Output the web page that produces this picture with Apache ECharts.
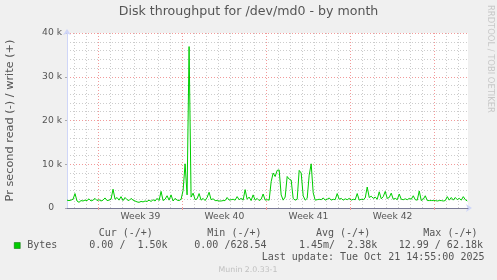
<!DOCTYPE html>
<html>
<head>
<meta charset="utf-8">
<script src="https://cdn.jsdelivr.net/npm/echarts@6/dist/echarts.min.js"></script>
<style>
html,body{margin:0;padding:0;background:#f0f0f0;}
#c{width:497px;height:280px;}
</style>
</head>
<body>
<div id="c"></div>
<script>
// ---- data ----
const chartTitle = 'Disk throughput for /dev/md0 - by month';
const yAxisName = 'Pr second read (-) / write (+)';
const seriesName = 'Bytes';
// time in hours relative to start of Week 39 (Mon 00:00); one sample every 4 hours
const startHour = -62.6;
const stepHours = 4;
const axisEndHour = 738.8;
// write throughput, in thousands of bytes per second
const writeK = [
 1.8,1.7,1.8,2.0,3.3,1.6,1.3,1.7,1.6,1.8,1.7,2.1,1.6,1.8,2.2,1.7,
 1.9,1.6,1.8,2.3,1.7,1.8,2.0,4.3,2.0,2.4,1.8,2.6,1.7,2.4,1.9,1.7,
 2.2,1.8,1.6,1.4,1.3,1.5,1.4,1.6,1.5,1.8,1.5,1.9,1.6,2.2,1.7,3.8,
 1.7,2.0,2.8,1.8,3.0,1.6,2.2,1.8,1.7,2.0,4.0,10.1,3.0,36.9,2.5,3.4,
 1.9,2.1,3.3,1.8,2.2,1.7,2.4,3.6,1.9,2.1,1.7,1.7,1.6,1.6,1.7,1.7,
 2.4,1.8,1.9,2.0,1.8,2.6,1.9,2.2,1.8,4.2,2.0,2.5,1.7,3.0,1.8,2.2,
 1.7,2.0,3.2,1.8,1.9,1.8,6.0,8.0,7.2,8.6,8.7,3.0,1.8,2.5,7.2,6.6,
 6.4,2.2,1.8,2.0,8.6,8.0,2.8,1.8,2.2,7.5,10.1,3.5,1.8,1.9,2.0,1.9,
 2.3,1.8,2.0,2.3,1.8,2.0,1.9,3.3,2.0,2.2,1.8,2.1,1.9,2.2,1.8,2.0,
 1.9,3.3,1.8,2.0,1.9,2.3,4.8,2.4,2.7,2.2,2.5,2.0,3.7,2.1,2.6,3.8,
 2.2,2.4,3.4,2.0,2.2,1.9,3.2,2.0,1.9,2.1,1.9,2.2,2.0,2.8,1.9,1.8,
 3.9,1.7,2.0,2.8,1.7,1.7,1.7,1.7,1.7,1.6,1.7,1.7,1.6,1.7,2.6,1.8,
 2.4,1.8,2.4,1.9,2.2,1.8,2.6,1.9,1.6
];
const weekLabels = ['Week 39', 'Week 40', 'Week 41', 'Week 42'];
const firstWeek = 39;
const legendHeaders = ['Cur (-/+)', 'Min (-/+)', 'Avg (-/+)', 'Max (-/+)'];
const bytesStats = ['0.00 /  1.50k', '0.00 /628.54', '1.45m/  2.38k', '12.99 / 62.18k'];
const lastUpdate = 'Last update: Tue Oct 21 14:55:00 2025';
const footer = 'Munin 2.0.33-1';
const watermark = 'RRDTOOL / TOBI OETIKER';

// ---- build ----
const HW = 168, HD = 24;
const points = writeK.map((v, i) => [startHour + i * stepHours, v]);
const weekStarts = [], dayStarts = [], weekMids = [];
for (let h = Math.ceil(startHour / HD) * HD; h <= axisEndHour; h += HD) {
  if (h % HW === 0) weekStarts.push(h); else dayStarts.push(h);
}
weekLabels.forEach((_, k) => weekMids.push(k * HW + HW / 2));

const FONT = 'DejaVu Sans';
const MONO = 'DejaVu Sans Mono';
const TXT = '#555';

const chart = echarts.init(document.getElementById('c'), null, {renderer: 'canvas'});
const monoText = (x, y, text, align) => ({
  type: 'text', x: x, y: y,
  style: {text: text, font: '10px "' + MONO + '"', fill: TXT, align: align || 'left', verticalAlign: 'middle'}
});
const statX = [98.7, 207.3, 316, 423.3];
const valX = [89.3, 194.3, 299, 398.7];
const graphics = [];
legendHeaders.forEach((t, i) => graphics.push(monoText(statX[i], 233.5, t)));
bytesStats.forEach((t, i) => graphics.push(monoText(valX[i], 245.5, t)));
graphics.push(monoText(261.7, 257.5, lastUpdate));
graphics.push({type: 'text', x: 248, y: 269.5,
  style: {text: footer, font: '7.8px "' + FONT + '"', fill: '#c0c0c0', align: 'center', verticalAlign: 'middle'}});
graphics.push({type: 'text', x: 490, y: 5, rotation: -Math.PI / 2,
  style: {text: watermark, font: '8.4px "' + FONT + '"', fill: '#c8c8c8', align: 'left', verticalAlign: 'middle'}});

const vLines = (hours, color, z) => ({
  type: 'line', data: [], xAxisIndex: 0, silent: true, z: z,
  markLine: {silent: true, symbol: 'none', animation: false, label: {show: false},
    emphasis: {disabled: true},
    lineStyle: {color: color, type: [1, 2], width: 1},
    data: hours.map(h => ({xAxis: h}))}
});

chart.setOption({
  backgroundColor: '#f0f0f0',
  animation: false,
  title: {
    text: chartTitle, left: 'center', top: 5, padding: 0,
    textStyle: {fontFamily: FONT, fontSize: 12.6, fontWeight: 'normal', color: TXT}
  },
  legend: {
    data: [seriesName], left: 14, top: 240.5, padding: 0,
    icon: 'rect', itemWidth: 6, itemHeight: 6,
    itemStyle: {borderColor: '#006600', borderWidth: 0.5},
    textStyle: {fontFamily: MONO, fontSize: 10, color: TXT, padding: [0, 0, 0, 2]}
  },
  grid: {left: 67, top: 33, width: 401, height: 175, containLabel: false, outerBoundsMode: 'none',
    show: true, backgroundColor: '#ffffff', borderWidth: 0},
  xAxis: [{
    type: 'value', position: 'bottom', min: startHour, max: axisEndHour, z: 2,
    axisLine: {show: true, onZero: false, lineStyle: {color: '#7a7a96', width: 1}},
    axisTick: {show: true, length: 2, inside: false, customValues: weekStarts, lineStyle: {color: '#f0a0a0'}},
    splitLine: {show: false},
    axisLabel: {show: true, customValues: weekMids, margin: 4,
      formatter: v => 'Week ' + (firstWeek + Math.floor(v / HW)),
      fontFamily: FONT, fontSize: 9.2, color: TXT}
  }, {
    type: 'value', position: 'bottom', min: startHour, max: axisEndHour, z: 1,
    axisLine: {show: true, onZero: false, symbol: ['none', 'arrow'], symbolSize: [6, 6], symbolOffset: [0, 4],
      lineStyle: {color: '#cfd6f8', width: 1}},
    axisTick: {show: false},
    splitLine: {show: false},
    axisLabel: {show: false}
  }],
  yAxis: {
    type: 'value', min: 0, max: 40, interval: 10,
    name: yAxisName, nameLocation: 'middle', nameGap: 51,
    nameTextStyle: {fontFamily: FONT, fontSize: 11.3, color: TXT},
    axisLine: {show: true, onZero: false, symbol: ['none', 'arrow'], symbolSize: [6, 6], symbolOffset: [0, 4],
      lineStyle: {color: '#cfd6f8', width: 1}},
    axisTick: {show: true, length: 2, lineStyle: {color: '#aaaaaa'}},
    minorTick: {show: false, splitNumber: 5},
    splitLine: {show: true, lineStyle: {color: '#f29a9a', type: [1, 2], width: 1}},
    minorSplitLine: {show: true, lineStyle: {color: '#cccccc', type: [1, 2], width: 1}},
    axisLabel: {margin: 5, fontFamily: FONT, fontSize: 9.2, color: TXT,
      formatter: v => v === 0 ? '{z|0}' : v + ' k',
      rich: {z: {fontFamily: FONT, fontSize: 9.2, color: TXT, padding: [0, 8, 0, 0]}}}
  },
  series: [
    vLines(dayStarts, '#cccccc', 1),
    vLines(weekStarts, '#f29a9a', 2),
    {
      name: seriesName, type: 'line', data: points, xAxisIndex: 0,
      showSymbol: false, symbol: 'none', smooth: false, z: 5,
      color: '#00cc00', lineStyle: {color: '#00cc00', width: 1}
    }
  ],
  graphic: graphics
});
</script>
</body>
</html>
